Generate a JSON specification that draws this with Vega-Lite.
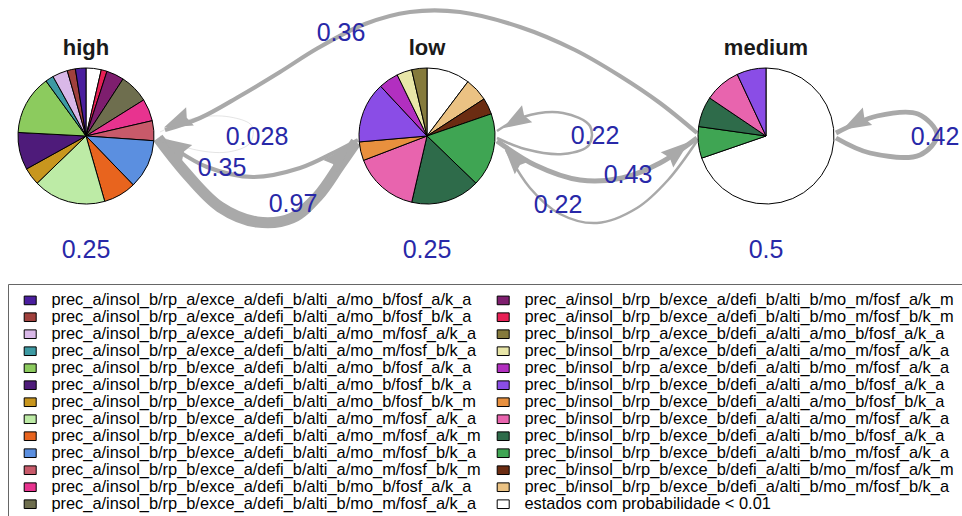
{
  "$schema": "https://vega.github.io/schema/vega-lite/v6.json",
  "width": 962,
  "height": 516,
  "autosize": "none",
  "padding": 0,
  "background": "white",
  "config": {"view": {"stroke": null}},
  "datasets": {
    "cats": [
      {"k": 1, "cat": "prec_a/insol_b/rp_a/exce_a/defi_b/alti_a/mo_b/fosf_a/k_a"},
      {"k": 2, "cat": "prec_a/insol_b/rp_a/exce_a/defi_b/alti_a/mo_b/fosf_b/k_a"},
      {"k": 3, "cat": "prec_a/insol_b/rp_a/exce_a/defi_b/alti_a/mo_m/fosf_a/k_a"},
      {"k": 4, "cat": "prec_a/insol_b/rp_a/exce_a/defi_b/alti_a/mo_m/fosf_b/k_a"},
      {"k": 5, "cat": "prec_a/insol_b/rp_b/exce_a/defi_b/alti_a/mo_b/fosf_a/k_a"},
      {"k": 6, "cat": "prec_a/insol_b/rp_b/exce_a/defi_b/alti_a/mo_b/fosf_b/k_a"},
      {"k": 7, "cat": "prec_a/insol_b/rp_b/exce_a/defi_b/alti_a/mo_b/fosf_b/k_m"},
      {"k": 8, "cat": "prec_a/insol_b/rp_b/exce_a/defi_b/alti_a/mo_m/fosf_a/k_a"},
      {"k": 9, "cat": "prec_a/insol_b/rp_b/exce_a/defi_b/alti_a/mo_m/fosf_a/k_m"},
      {"k": 10, "cat": "prec_a/insol_b/rp_b/exce_a/defi_b/alti_a/mo_m/fosf_b/k_a"},
      {"k": 11, "cat": "prec_a/insol_b/rp_b/exce_a/defi_b/alti_a/mo_m/fosf_b/k_m"},
      {"k": 12, "cat": "prec_a/insol_b/rp_b/exce_a/defi_b/alti_b/mo_b/fosf_a/k_a"},
      {"k": 13, "cat": "prec_a/insol_b/rp_b/exce_a/defi_b/alti_b/mo_m/fosf_a/k_a"},
      {"k": 14, "cat": "prec_a/insol_b/rp_b/exce_a/defi_b/alti_b/mo_m/fosf_a/k_m"},
      {"k": 15, "cat": "prec_a/insol_b/rp_b/exce_a/defi_b/alti_b/mo_m/fosf_b/k_m"},
      {"k": 16, "cat": "prec_b/insol_b/rp_a/exce_b/defi_a/alti_a/mo_b/fosf_a/k_a"},
      {"k": 17, "cat": "prec_b/insol_b/rp_a/exce_b/defi_a/alti_a/mo_m/fosf_a/k_a"},
      {"k": 18, "cat": "prec_b/insol_b/rp_a/exce_b/defi_a/alti_b/mo_m/fosf_a/k_a"},
      {"k": 19, "cat": "prec_b/insol_b/rp_b/exce_b/defi_a/alti_a/mo_b/fosf_a/k_a"},
      {"k": 20, "cat": "prec_b/insol_b/rp_b/exce_b/defi_a/alti_a/mo_b/fosf_b/k_a"},
      {"k": 21, "cat": "prec_b/insol_b/rp_b/exce_b/defi_a/alti_a/mo_m/fosf_a/k_a"},
      {"k": 22, "cat": "prec_b/insol_b/rp_b/exce_b/defi_a/alti_b/mo_b/fosf_a/k_a"},
      {"k": 23, "cat": "prec_b/insol_b/rp_b/exce_b/defi_a/alti_b/mo_m/fosf_a/k_a"},
      {"k": 24, "cat": "prec_b/insol_b/rp_b/exce_b/defi_a/alti_b/mo_m/fosf_a/k_m"},
      {"k": 25, "cat": "prec_b/insol_b/rp_b/exce_b/defi_a/alti_b/mo_m/fosf_b/k_a"},
      {"k": 26, "cat": "estados com probabilidade < 0.01"}
    ],
    "nodes": [
      {"state": "high", "cx": 86, "cy": 136, "p0": "0.25"},
      {"state": "low", "cx": 427, "cy": 136, "p0": "0.25"},
      {"state": "medium", "cx": 766, "cy": 136, "p0": "0.5"}
    ],
    "pies": [
      {"state": "high", "k": 26, "share": 13},
      {"state": "high", "k": 15, "share": 5},
      {"state": "high", "k": 14, "share": 15},
      {"state": "high", "k": 13, "share": 25},
      {"state": "high", "k": 12, "share": 19},
      {"state": "high", "k": 11, "share": 17},
      {"state": "high", "k": 10, "share": 42},
      {"state": "high", "k": 9, "share": 28},
      {"state": "high", "k": 8, "share": 62},
      {"state": "high", "k": 7, "share": 15},
      {"state": "high", "k": 6, "share": 32},
      {"state": "high", "k": 5, "share": 51},
      {"state": "high", "k": 4, "share": 7},
      {"state": "high", "k": 3, "share": 13},
      {"state": "high", "k": 2, "share": 7},
      {"state": "high", "k": 1, "share": 9},
      {"state": "low", "k": 26, "share": 37},
      {"state": "low", "k": 25, "share": 20},
      {"state": "low", "k": 24, "share": 14},
      {"state": "low", "k": 23, "share": 63},
      {"state": "low", "k": 22, "share": 59},
      {"state": "low", "k": 21, "share": 56},
      {"state": "low", "k": 20, "share": 16},
      {"state": "low", "k": 19, "share": 52},
      {"state": "low", "k": 18, "share": 17},
      {"state": "low", "k": 17, "share": 13},
      {"state": "low", "k": 16, "share": 13},
      {"state": "medium", "k": 26, "share": 251},
      {"state": "medium", "k": 23, "share": 27},
      {"state": "medium", "k": 22, "share": 26},
      {"state": "medium", "k": 21, "share": 31},
      {"state": "medium", "k": 19, "share": 25}
    ],
    "edges": [
      {"e": "mh", "p": 0.36, "i": 0, "x": 697, "y": 133},
      {"e": "mh", "p": 0.36, "i": 1, "x": 660, "y": 103},
      {"e": "mh", "p": 0.36, "i": 2, "x": 620, "y": 76},
      {"e": "mh", "p": 0.36, "i": 3, "x": 575, "y": 50},
      {"e": "mh", "p": 0.36, "i": 4, "x": 520, "y": 27},
      {"e": "mh", "p": 0.36, "i": 5, "x": 460, "y": 12},
      {"e": "mh", "p": 0.36, "i": 6, "x": 410, "y": 12},
      {"e": "mh", "p": 0.36, "i": 7, "x": 365, "y": 24},
      {"e": "mh", "p": 0.36, "i": 8, "x": 318, "y": 48},
      {"e": "mh", "p": 0.36, "i": 9, "x": 280, "y": 72},
      {"e": "mh", "p": 0.36, "i": 10, "x": 240, "y": 96},
      {"e": "mh", "p": 0.36, "i": 11, "x": 200, "y": 118},
      {"e": "mh", "p": 0.36, "i": 12, "x": 165, "y": 130},
      {"e": "hh", "p": 0.028, "i": 0, "x": 160, "y": 132},
      {"e": "hh", "p": 0.028, "i": 1, "x": 195, "y": 118},
      {"e": "hh", "p": 0.028, "i": 2, "x": 230, "y": 117},
      {"e": "hh", "p": 0.028, "i": 3, "x": 252, "y": 126},
      {"e": "hh", "p": 0.028, "i": 4, "x": 250, "y": 143},
      {"e": "hh", "p": 0.028, "i": 5, "x": 228, "y": 152},
      {"e": "hh", "p": 0.028, "i": 6, "x": 192, "y": 149},
      {"e": "hh", "p": 0.028, "i": 7, "x": 160, "y": 136},
      {"e": "hl", "p": 0.97, "i": 0, "x": 158, "y": 138},
      {"e": "hl", "p": 0.97, "i": 1, "x": 185, "y": 172},
      {"e": "hl", "p": 0.97, "i": 2, "x": 220, "y": 207},
      {"e": "hl", "p": 0.97, "i": 3, "x": 257, "y": 222},
      {"e": "hl", "p": 0.97, "i": 4, "x": 292, "y": 218},
      {"e": "hl", "p": 0.97, "i": 5, "x": 318, "y": 196},
      {"e": "hl", "p": 0.97, "i": 6, "x": 340, "y": 165},
      {"e": "hl", "p": 0.97, "i": 7, "x": 356, "y": 142},
      {"e": "lh", "p": 0.35, "i": 0, "x": 358, "y": 140},
      {"e": "lh", "p": 0.35, "i": 1, "x": 335, "y": 152},
      {"e": "lh", "p": 0.35, "i": 2, "x": 300, "y": 168},
      {"e": "lh", "p": 0.35, "i": 3, "x": 253, "y": 177},
      {"e": "lh", "p": 0.35, "i": 4, "x": 207, "y": 167},
      {"e": "lh", "p": 0.35, "i": 5, "x": 175, "y": 149},
      {"e": "lh", "p": 0.35, "i": 6, "x": 160, "y": 138},
      {"e": "ll", "p": 0.22, "i": 0, "x": 497, "y": 131},
      {"e": "ll", "p": 0.22, "i": 1, "x": 523, "y": 117},
      {"e": "ll", "p": 0.22, "i": 2, "x": 563, "y": 113},
      {"e": "ll", "p": 0.22, "i": 3, "x": 590, "y": 126},
      {"e": "ll", "p": 0.22, "i": 4, "x": 589, "y": 145},
      {"e": "ll", "p": 0.22, "i": 5, "x": 563, "y": 154},
      {"e": "ll", "p": 0.22, "i": 6, "x": 525, "y": 149},
      {"e": "ll", "p": 0.22, "i": 7, "x": 497, "y": 138},
      {"e": "lm", "p": 0.43, "i": 0, "x": 497, "y": 141},
      {"e": "lm", "p": 0.43, "i": 1, "x": 535, "y": 165},
      {"e": "lm", "p": 0.43, "i": 2, "x": 580, "y": 180},
      {"e": "lm", "p": 0.43, "i": 3, "x": 622, "y": 178},
      {"e": "lm", "p": 0.43, "i": 4, "x": 660, "y": 163},
      {"e": "lm", "p": 0.43, "i": 5, "x": 697, "y": 138},
      {"e": "ml", "p": 0.22, "i": 0, "x": 697, "y": 141},
      {"e": "ml", "p": 0.22, "i": 1, "x": 668, "y": 180},
      {"e": "ml", "p": 0.22, "i": 2, "x": 637, "y": 208},
      {"e": "ml", "p": 0.22, "i": 3, "x": 597, "y": 223},
      {"e": "ml", "p": 0.22, "i": 4, "x": 560, "y": 214},
      {"e": "ml", "p": 0.22, "i": 5, "x": 530, "y": 188},
      {"e": "ml", "p": 0.22, "i": 6, "x": 506, "y": 150},
      {"e": "mm", "p": 0.42, "i": 0, "x": 836, "y": 133},
      {"e": "mm", "p": 0.42, "i": 1, "x": 877, "y": 116},
      {"e": "mm", "p": 0.42, "i": 2, "x": 918, "y": 114},
      {"e": "mm", "p": 0.42, "i": 3, "x": 937, "y": 135},
      {"e": "mm", "p": 0.42, "i": 4, "x": 920, "y": 155},
      {"e": "mm", "p": 0.42, "i": 5, "x": 870, "y": 153},
      {"e": "mm", "p": 0.42, "i": 6, "x": 836, "y": 138}
    ],
    "arrows": [
      {"e": "mh", "x": 177, "y": 122, "ang": 157},
      {"e": "lh", "x": 175, "y": 146, "ang": 212},
      {"e": "hl", "x": 340, "y": 156, "ang": 312},
      {"e": "ll", "x": 515, "y": 121, "ang": 149},
      {"e": "ml", "x": 513, "y": 157, "ang": 229},
      {"e": "lm", "x": 678, "y": 151, "ang": 321},
      {"e": "mm", "x": 855, "y": 123, "ang": 152}
    ],
    "elabels": [
      {"lab": "0.36", "x": 341, "y": 33},
      {"lab": "0.028", "x": 257, "y": 136.5},
      {"lab": "0.35", "x": 222, "y": 167.5},
      {"lab": "0.97", "x": 293, "y": 203.5},
      {"lab": "0.22", "x": 595, "y": 136},
      {"lab": "0.43", "x": 628, "y": 175},
      {"lab": "0.22", "x": 558, "y": 205},
      {"lab": "0.42", "x": 935, "y": 136.5}
    ]
  },
  "layer": [
    {
      "data": {"name": "edges"},
      "mark": {"type": "line", "interpolate": "catmull-rom", "color": "#A9A9A9"},
      "encoding": {
        "x": {"field": "x", "type": "quantitative", "axis": null, "scale": {"domain": [0, 962], "nice": false, "zero": false}},
        "y": {"field": "y", "type": "quantitative", "axis": null, "scale": {"domain": [0, 516], "reverse": true, "nice": false, "zero": false}},
        "detail": {"field": "e"},
        "order": {"field": "i", "type": "quantitative"},
        "strokeWidth": {"field": "p", "type": "quantitative", "legend": null, "scale": {"domain": [0, 1], "range": [0, 11.5]}}
      }
    },
    {
      "data": {"name": "arrows"},
      "mark": {"type": "point", "filled": true, "color": "#A9A9A9", "opacity": 1, "size": 800, "shape": "M1,0L-1,-0.7L-0.75,0L-1,0.7Z"},
      "encoding": {
        "x": {"field": "x", "type": "quantitative", "axis": null, "scale": {"domain": [0, 962], "nice": false, "zero": false}},
        "y": {"field": "y", "type": "quantitative", "axis": null, "scale": {"domain": [0, 516], "reverse": true, "nice": false, "zero": false}},
        "angle": {"field": "ang", "type": "quantitative", "scale": null}
      }
    },
    {
      "data": {"name": "pies"},
      "transform": [
        {"lookup": "k", "from": {"data": {"name": "cats"}, "key": "k", "fields": ["cat"]}},
        {"lookup": "state", "from": {"data": {"name": "nodes"}, "key": "state", "fields": ["cx", "cy"]}},
        {"stack": "share", "groupby": ["state"], "sort": [{"field": "k", "order": "descending"}], "offset": "normalize", "as": ["t0", "t1"]}
      ],
      "mark": {"type": "arc", "outerRadius": 68, "stroke": "black", "strokeWidth": 1},
      "encoding": {
        "x": {"field": "cx", "type": "quantitative", "axis": null, "scale": {"domain": [0, 962], "nice": false, "zero": false}},
        "y": {"field": "cy", "type": "quantitative", "axis": null, "scale": {"domain": [0, 516], "reverse": true, "nice": false, "zero": false}},
        "theta": {"field": "t0", "type": "quantitative", "scale": {"domain": [0, 1], "range": [0, 6.283185307]}},
        "theta2": {"field": "t1"},
        "fill": {
          "field": "cat",
          "type": "nominal",
          "scale": {
            "domain": [
              "prec_a/insol_b/rp_a/exce_a/defi_b/alti_a/mo_b/fosf_a/k_a",
              "prec_a/insol_b/rp_a/exce_a/defi_b/alti_a/mo_b/fosf_b/k_a",
              "prec_a/insol_b/rp_a/exce_a/defi_b/alti_a/mo_m/fosf_a/k_a",
              "prec_a/insol_b/rp_a/exce_a/defi_b/alti_a/mo_m/fosf_b/k_a",
              "prec_a/insol_b/rp_b/exce_a/defi_b/alti_a/mo_b/fosf_a/k_a",
              "prec_a/insol_b/rp_b/exce_a/defi_b/alti_a/mo_b/fosf_b/k_a",
              "prec_a/insol_b/rp_b/exce_a/defi_b/alti_a/mo_b/fosf_b/k_m",
              "prec_a/insol_b/rp_b/exce_a/defi_b/alti_a/mo_m/fosf_a/k_a",
              "prec_a/insol_b/rp_b/exce_a/defi_b/alti_a/mo_m/fosf_a/k_m",
              "prec_a/insol_b/rp_b/exce_a/defi_b/alti_a/mo_m/fosf_b/k_a",
              "prec_a/insol_b/rp_b/exce_a/defi_b/alti_a/mo_m/fosf_b/k_m",
              "prec_a/insol_b/rp_b/exce_a/defi_b/alti_b/mo_b/fosf_a/k_a",
              "prec_a/insol_b/rp_b/exce_a/defi_b/alti_b/mo_m/fosf_a/k_a",
              "prec_a/insol_b/rp_b/exce_a/defi_b/alti_b/mo_m/fosf_a/k_m",
              "prec_a/insol_b/rp_b/exce_a/defi_b/alti_b/mo_m/fosf_b/k_m",
              "prec_b/insol_b/rp_a/exce_b/defi_a/alti_a/mo_b/fosf_a/k_a",
              "prec_b/insol_b/rp_a/exce_b/defi_a/alti_a/mo_m/fosf_a/k_a",
              "prec_b/insol_b/rp_a/exce_b/defi_a/alti_b/mo_m/fosf_a/k_a",
              "prec_b/insol_b/rp_b/exce_b/defi_a/alti_a/mo_b/fosf_a/k_a",
              "prec_b/insol_b/rp_b/exce_b/defi_a/alti_a/mo_b/fosf_b/k_a",
              "prec_b/insol_b/rp_b/exce_b/defi_a/alti_a/mo_m/fosf_a/k_a",
              "prec_b/insol_b/rp_b/exce_b/defi_a/alti_b/mo_b/fosf_a/k_a",
              "prec_b/insol_b/rp_b/exce_b/defi_a/alti_b/mo_m/fosf_a/k_a",
              "prec_b/insol_b/rp_b/exce_b/defi_a/alti_b/mo_m/fosf_a/k_m",
              "prec_b/insol_b/rp_b/exce_b/defi_a/alti_b/mo_m/fosf_b/k_a",
              "estados com probabilidade < 0.01"
            ],
            "range": [
              "#4A1E9E", "#A0403C", "#D9B8E8", "#3D9AA3", "#8CCB5E",
              "#4E1B7A", "#C8961E", "#BDEBA6", "#E8641E", "#5B8FE0",
              "#C85A6A", "#E8338F", "#6E6E4E", "#7E1E6E", "#E82055",
              "#857A3C", "#E8E6A8", "#B22FC0", "#8A4DE6", "#E8903E",
              "#E864AE", "#2E6B4A", "#3FA553", "#6B2C12", "#EBC283",
              "#FFFFFF"
            ]
          },
          "legend": {
            "orient": "none",
            "legendX": 8,
            "legendY": 284,
            "title": null,
            "columns": 2,
            "columnPadding": 8,
            "rowPadding": -0.55,
            "padding": 8,
            "symbolOffset": 6,
            "strokeColor": "#666666",
            "fillColor": "white",
            "symbolType": "M-1,-0.72H1V0.72H-1Z",
            "symbolSize": 144,
            "symbolStrokeColor": "black",
            "symbolStrokeWidth": 1,
            "symbolOpacity": 1,
            "labelFont": "Liberation Sans",
            "labelFontSize": 16.4,
            "labelColor": "black",
            "labelLimit": 800,
            "labelOffset": 13
          }
        }
      }
    },
    {
      "data": {"name": "elabels"},
      "mark": {"type": "text", "font": "Liberation Sans", "fontSize": 25, "color": "#2828A8", "baseline": "middle", "align": "center"},
      "encoding": {
        "x": {"field": "x", "type": "quantitative", "axis": null, "scale": {"domain": [0, 962], "nice": false, "zero": false}},
        "y": {"field": "y", "type": "quantitative", "axis": null, "scale": {"domain": [0, 516], "reverse": true, "nice": false, "zero": false}},
        "text": {"field": "lab"}
      }
    },
    {
      "data": {"name": "nodes"},
      "mark": {"type": "text", "font": "Liberation Sans", "fontSize": 25, "color": "#2828A8", "baseline": "middle", "align": "center", "dy": 114},
      "encoding": {
        "x": {"field": "cx", "type": "quantitative", "axis": null, "scale": {"domain": [0, 962], "nice": false, "zero": false}},
        "y": {"field": "cy", "type": "quantitative", "axis": null, "scale": {"domain": [0, 516], "reverse": true, "nice": false, "zero": false}},
        "text": {"field": "p0"}
      }
    },
    {
      "data": {"name": "nodes"},
      "mark": {"type": "text", "font": "Liberation Sans", "fontSize": 22, "fontWeight": "bold", "color": "#1a1a1a", "baseline": "alphabetic", "align": "center", "dy": -81},
      "encoding": {
        "x": {"field": "cx", "type": "quantitative", "axis": null, "scale": {"domain": [0, 962], "nice": false, "zero": false}},
        "y": {"field": "cy", "type": "quantitative", "axis": null, "scale": {"domain": [0, 516], "reverse": true, "nice": false, "zero": false}},
        "text": {"field": "state"}
      }
    }
  ]
}
